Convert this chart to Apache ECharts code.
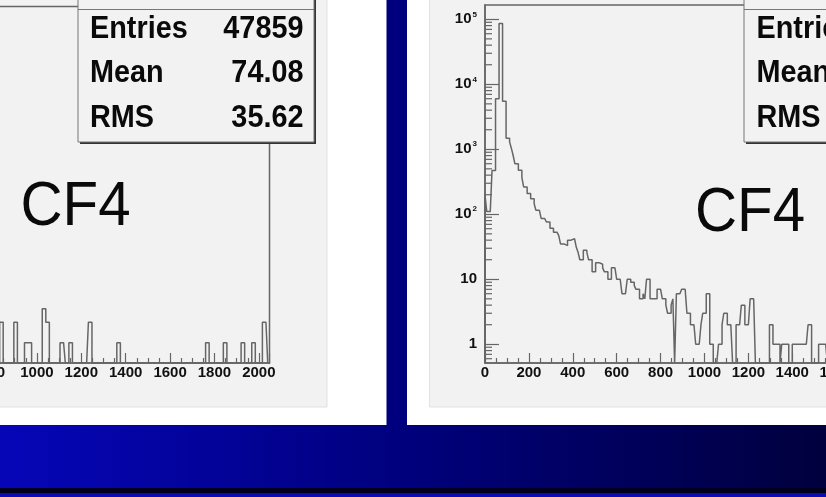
<!DOCTYPE html>
<html>
<head>
<meta charset="utf-8">
<title>CF4</title>
<script src="https://cdn.jsdelivr.net/npm/echarts@6.0.0/dist/echarts.min.js"></script>
<style>
html, body { margin: 0; padding: 0; background: #fff; }
#chart { width: 826px; height: 497px; }
</style>
</head>
<body>
<div id="chart"></div>
<script>
// channels 0..2048, bins of 8 channels
var binWidth = 8;
var xMax = 2048;
var xTickStep = 200;

// left pad: linear histogram, only the tail (bins from channel 832 up) is in the picture
var leftChannels = [832, 840, 896, 904, 944, 952, 960, 968, 1024, 1032, 1040, 1048,
	1104, 1112, 1120, 1144, 1152, 1232, 1240, 1360, 1368, 1760, 1768, 1840, 1848,
	1920, 1928, 1968, 1976, 2016, 2024, 2032];
var leftCounts = [6, 6, 6, 6, 3, 3, 3, 3, 8, 8, 6, 6,
	3, 3, 3, 3, 3, 6, 6, 3, 3, 3, 3, 3, 3,
	3, 3, 3, 3, 6, 6, 6];
var leftYMax = 52.5;
var leftStats = [['Entries', '47859'], ['Mean', '74.08'], ['RMS', '35.62']];

// right pad: log histogram, bins 0..199 (the rest is past the right edge)
var rightCounts = [
	200, 110, 110, 110, 470, 470, 6000, 6000, 86000, 86000,
	5500, 5500, 1480, 1480, 1300, 1040, 810, 600, 600, 475,
	475, 370, 263, 263, 208, 208, 174, 174, 145, 115,
	115, 115, 86, 86, 86, 76, 76, 61, 61, 53,
	53, 53, 47, 35, 35, 35, 33, 40, 40, 40,
	42, 42, 31, 26, 20, 20, 28, 28, 26, 20,
	20, 13, 13, 18, 18, 17, 17, 15, 13, 13,
	10, 10, 15, 15, 15, 10, 10, 10, 6, 6,
	6, 10, 10, 9, 9, 8, 7, 7, 5, 5,
	6, 5, 10, 10, 5, 5, 5, 5, 7, 7,
	7, 5, 5, 4, 3, 3, 4, 5, 0, 6,
	6, 6, 7, 7, 7, 3, 3, 2, 2, 2,
	1, 1, 1, 2, 3, 3, 6, 6, 1, 1,
	0, 0, 0, 1, 1, 2, 3, 3, 2, 2,
	2, 0, 0, 2, 2, 2, 4, 4, 2, 2,
	2, 5, 5, 5, 0, 0, 0, 0, 0, 0,
	0, 0, 2, 2, 1, 1, 1, 1, 0, 1,
	1, 1, 1, 0, 0, 1, 1, 1, 1, 1,
	1, 1, 1, 1, 2, 2, 0, 0, 0, 0,
	1, 1, 1, 1, 1, 0, 1, 0, 0, 1
];
var rightYMin = 0.515;
var rightYMax = 166000;
var rightStats = ['Entries', 'Mean', 'RMS'];
var padLabel = 'CF4';

var lineColor = '#666666';
var font = "'Liberation Sans', Arial, Helvetica, sans-serif";

// turn a list of bin contents into the outline points of a step histogram
function histOutline(counts, firstBin, floor) {
	var pts = [[firstBin * binWidth, floor]];
	for (var i = 0; i < counts.length; i++) {
		var v = counts[i] > 0 ? counts[i] : floor;
		pts.push([(firstBin + i) * binWidth, v]);
	}
	pts.push([(firstBin + counts.length) * binWidth, floor]);
	return pts;
}

// sparse left list -> dense bins
var leftFirstBin = leftChannels[0] / binWidth;
var leftDense = [];
for (var b = leftFirstBin; b < xMax / binWidth; b++) leftDense.push(0);
for (var k = 0; k < leftChannels.length; k++) {
	leftDense[leftChannels[k] / binWidth - leftFirstBin] = leftCounts[k];
}

// minor ticks of the log axis (2..9 in every decade)
var logMinor = [];
for (var e = -1; e <= 5; e++) {
	for (var m = 2; m <= 9; m++) {
		var t = m * Math.pow(10, e);
		if (t > rightYMin && t < rightYMax) logMinor.push([0, t]);
	}
}

function xAxisOpt(gridIndex) {
	return {
		gridIndex: gridIndex, type: 'value', min: 0, max: xMax, interval: xTickStep,
		axisLine: { show: true, lineStyle: { color: lineColor, width: 1.5 } },
		axisTick: { show: true, inside: true, length: 10, lineStyle: { color: lineColor, width: 1.2 } },
		minorTick: { show: true, splitNumber: 4, length: 5, lineStyle: { color: lineColor, width: 1.2 } },
		splitLine: { show: false },
		axisLabel: {
			show: true, margin: 2, color: '#111', fontFamily: font, fontWeight: 'bold', fontSize: 15,
			showMaxLabel: false,
			formatter: function (v) { return String(v); }
		}
	};
}

function padText(x, y, str, align, weight, size, sx) {
	return {
		type: 'text', x: x, y: y, scaleX: sx, z: 110,
		style: {
			text: str, fill: '#0a0a0a', font: weight + ' ' + size + 'px ' + font,
			align: align, verticalAlign: 'middle'
		}
	};
}

var graphics = [
	// slide background
	{ type: 'rect', z: -20, shape: { x: 0, y: 425, width: 826, height: 72 },
		style: { fill: new echarts.graphic.LinearGradient(0, 0, 1, 0, [
			{ offset: 0, color: '#0606b8' }, { offset: 0.5, color: '#00007c' }, { offset: 1, color: '#00003e' }]) } },
	{ type: 'rect', z: -19, shape: { x: 0, y: 488, width: 826, height: 5 }, style: { fill: '#00001c' } },
	{ type: 'rect', z: -19, shape: { x: 0, y: 493, width: 826, height: 4 }, style: { fill: '#0c0cb4' } },
	{ type: 'rect', z: -19, shape: { x: 386.5, y: 0, width: 20.5, height: 426 }, style: { fill: '#00007e' } },
	// canvas pads
	{ type: 'rect', z: -18, shape: { x: -2, y: -2, width: 329, height: 409 },
		style: { fill: '#f2f2f2', stroke: '#e2e2e2', lineWidth: 1 } },
	{ type: 'rect', z: -18, shape: { x: 429.5, y: -2, width: 400, height: 409 },
		style: { fill: '#f2f2f2', stroke: '#e2e2e2', lineWidth: 1 } },
	// left stats box
	{ type: 'rect', z: 100, shape: { x: 80, y: -40, width: 236, height: 184 }, style: { fill: '#333' } },
	{ type: 'rect', z: 101, shape: { x: 78, y: -42, width: 236, height: 184 },
		style: { fill: '#f2f2f2', stroke: '#777', lineWidth: 1 } },
	{ type: 'line', z: 102, shape: { x1: 78, y1: 9.5, x2: 314, y2: 9.5 }, style: { stroke: '#777', lineWidth: 1 } },
	// right stats box
	{ type: 'rect', z: 100, shape: { x: 746, y: -40, width: 236, height: 184 }, style: { fill: '#333' } },
	{ type: 'rect', z: 101, shape: { x: 744, y: -42, width: 236, height: 184 },
		style: { fill: '#f2f2f2', stroke: '#777', lineWidth: 1 } },
	{ type: 'line', z: 102, shape: { x1: 744, y1: 9.5, x2: 980, y2: 9.5 }, style: { stroke: '#777', lineWidth: 1 } },
	// pad labels
	padText(20.5, 207.5, padLabel, 'left', 'normal', 63, 0.925),
	padText(695, 214, padLabel, 'left', 'normal', 63, 0.925)
];
var rowY = [29.5, 73.3, 118.7];
for (var r = 0; r < leftStats.length; r++) {
	graphics.push(padText(90, rowY[r], leftStats[r][0], 'left', 'bold', 31, 0.93));
	graphics.push(padText(303.5, rowY[r], leftStats[r][1], 'right', 'bold', 31, 0.93));
	graphics.push(padText(756.5, rowY[r], rightStats[r], 'left', 'bold', 31, 0.93));
}

var option = {
	backgroundColor: '#ffffff',
	animation: false,
	graphic: { elements: graphics },
	grid: [
		{ left: -185, top: 6.5, width: 454.5, height: 356.5, show: true, borderColor: lineColor, borderWidth: 1.5,
			backgroundColor: 'transparent', containLabel: false, outerBoundsMode: 'none' },
		{ left: 485, top: 5, width: 449.5, height: 358, show: true, borderColor: lineColor, borderWidth: 1.5,
			backgroundColor: 'transparent', containLabel: false, outerBoundsMode: 'none' }
	],
	xAxis: [xAxisOpt(0), xAxisOpt(1)],
	yAxis: [
		{ gridIndex: 0, type: 'value', min: 0, max: leftYMax, show: false, splitLine: { show: false } },
		{
			gridIndex: 1, type: 'log', logBase: 10, min: rightYMin, max: rightYMax, splitNumber: 5,
			axisLine: { show: true, lineStyle: { color: lineColor, width: 1.5 } },
			axisTick: { show: true, inside: true, length: 14, lineStyle: { color: lineColor, width: 1.2 } },
			minorTick: { show: false },
			splitLine: { show: false },
			axisLabel: {
				show: true, margin: 8, color: '#111', fontFamily: font, fontWeight: 'bold', fontSize: 15,
				showMinLabel: false, showMaxLabel: false,
				formatter: function (v) {
					var p = Math.round(Math.log(v) / Math.LN10);
					if (p === 0) return '1';
					if (p === 1) return '10';
					return '{b|10}{s|' + p + '}';
				},
				rich: {
					b: { fontFamily: font, fontWeight: 'bold', fontSize: 15, color: '#111', lineHeight: 18 },
					s: { fontFamily: font, fontWeight: 'bold', fontSize: 8, color: '#111', lineHeight: 8,
						verticalAlign: 'top', padding: [0, 0, 0, 1] }
				}
			}
		}
	],
	series: [
		{
			type: 'line', xAxisIndex: 0, yAxisIndex: 0, step: 'end', silent: true,
			data: histOutline(leftDense, leftFirstBin, 0),
			showSymbol: false, symbol: 'none', clip: true,
			lineStyle: { color: lineColor, width: 1.5 }
		},
		{
			type: 'line', xAxisIndex: 1, yAxisIndex: 1, step: 'end', silent: true,
			data: histOutline(rightCounts, 0, rightYMin),
			showSymbol: false, symbol: 'none', clip: true,
			lineStyle: { color: lineColor, width: 1.5 }
		},
		{
			type: 'custom', xAxisIndex: 1, yAxisIndex: 1, silent: true,
			data: logMinor,
			renderItem: function (params, api) {
				var p = api.coord([api.value(0), api.value(1)]);
				return {
					type: 'line',
					shape: { x1: p[0], y1: p[1], x2: p[0] + 7, y2: p[1] },
					style: { stroke: lineColor, lineWidth: 1.2 }
				};
			}
		}
	]
};

var myChart = echarts.init(document.getElementById('chart'));
myChart.setOption(option);
</script>
</body>
</html>
